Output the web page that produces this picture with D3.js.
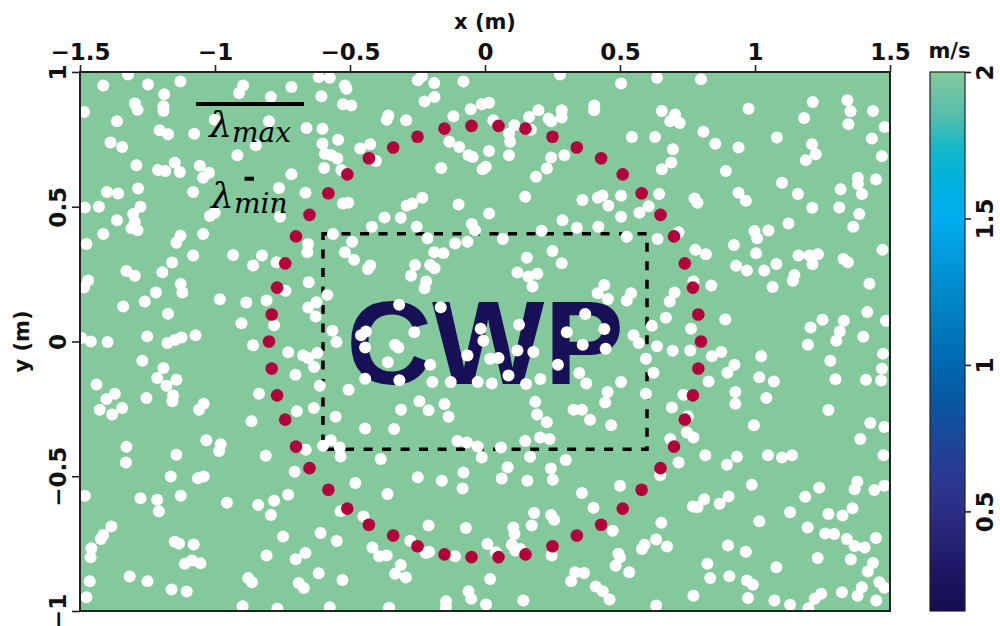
<!DOCTYPE html>
<html>
<head>
<meta charset="utf-8">
<script src="https://cdn.jsdelivr.net/npm/d3@7"></script>
<style>
  body { margin: 0; background: #fff; }
  text { font-family: "DejaVu Sans", sans-serif; font-weight: bold; fill: #111; }
</style>
</head>
<body>
<svg id="chart" width="1000" height="626"></svg>
<script>
// axis ticks
var xTicks = [-1.5, -1, -0.5, 0, 0.5, 1, 1.5];
var yTicks = [-1, -0.5, 0, 0.5, 1];
var cbTicks = [0.5, 1, 1.5, 2];

// colour bar (m/s)
var cbDomain = [0.16, 2];
var cmapValues = [2.0, 1.85, 1.74, 1.61, 1.5, 1.34, 1.17, 1.0, 0.86, 0.73, 0.6, 0.47, 0.34, 0.16];
var cmapColors = ["#84c99b", "#55beae", "#12b8c6", "#00b1e2", "#00aeef", "#0097d8", "#007fc3",
                  "#0068b0", "#0a559f", "#1d4597", "#2c3790", "#2b2a80", "#211b6a", "#140d50"];
var background = 2; // medium velocity, m/s

// CWP target box (m): x0, x1, y0, y1
var cwpBox = [-0.6, 0.6, -0.4, 0.4];

// wavelength bars (m)
var lambdaMax = 0.4;
var lambdaMin = 0.035;
var lambdaMaxAt = [-0.87, 0.881];
var lambdaMinAt = [-0.873, 0.604];

// sources on the ring r = 0.8 m
var sources = [
  [0.80, 0.00], [0.79, 0.10], [0.77, 0.20], [0.74, 0.29], [0.70, 0.39], [0.65, 0.47], [0.58, 0.55],
  [0.51, 0.62], [0.43, 0.68], [0.34, 0.72], [0.25, 0.76], [0.15, 0.79], [0.05, 0.80],
  [-0.05, 0.80], [-0.15, 0.79], [-0.25, 0.76], [-0.34, 0.72], [-0.43, 0.68], [-0.51, 0.62], [-0.58, 0.55],
  [-0.65, 0.47], [-0.70, 0.39], [-0.74, 0.29], [-0.77, 0.20], [-0.79, 0.10], [-0.80, 0.00],
  [-0.79, -0.10], [-0.77, -0.20], [-0.74, -0.29], [-0.70, -0.39], [-0.65, -0.47], [-0.58, -0.55],
  [-0.51, -0.62], [-0.43, -0.68], [-0.34, -0.72], [-0.25, -0.76], [-0.15, -0.79], [-0.05, -0.80],
  [0.05, -0.80], [0.15, -0.79], [0.25, -0.76], [0.34, -0.72], [0.43, -0.68], [0.51, -0.62],
  [0.58, -0.55], [0.65, -0.47], [0.70, -0.39], [0.74, -0.29], [0.77, -0.20], [0.79, -0.10]
];

// point scatterers (m)
var scatterers = [
  [-1.322,0.991],[-1.414,0.950],[-1.248,0.954],[-1.128,0.965],[-1.188,0.917],[-1.297,0.883],[-1.287,0.860],[-1.191,0.873],
  [-1.191,0.855],[-1.485,0.852],[-1.363,0.817],[-1.205,0.784],[-1.174,0.769],[-1.077,0.771],[-1.387,0.738],[-1.344,0.722],
  [-1.291,0.654],[-1.211,0.636],[-1.184,0.633],[-1.149,0.663],[-1.130,0.629],[-1.056,0.652],[-1.022,0.626],[-1.044,0.608],
  [-1.400,0.555],[-1.359,0.549],[-1.285,0.568],[-1.081,0.555],[-1.482,0.497],[-1.430,0.500],[-1.276,0.500],[-1.303,0.473],
  [-1.297,0.444],[-1.309,0.420],[-1.287,0.413],[-1.363,0.450],[-1.414,0.399],[-1.476,0.362],[-1.128,0.392],[-1.143,0.366],
  [-1.044,0.399],[-1.019,0.466],[-1.001,0.478],[-0.917,0.691],[-0.849,0.728],[-0.911,0.922],[-0.896,0.950],[-0.793,0.907],
  [-0.717,0.944],[-0.616,0.981],[-0.575,0.979],[-0.519,0.950],[-0.513,0.938],[-0.606,0.910],[-0.526,0.880],[-0.495,0.876],
  [-1.001,0.823],[-0.800,0.817],[-0.661,0.792],[-0.602,0.789],[-0.544,0.749],[-0.602,0.734],[-0.593,0.697],[-0.569,0.691],
  [-0.547,0.679],[-0.596,0.644],[-0.532,0.636],[-0.717,0.621],[-0.763,0.570],[-0.665,0.552],[-0.526,0.512],[-0.507,0.515],
  [-0.759,0.463],[-0.655,0.362],[-0.563,0.399],[-0.492,0.370],
  [-0.249,0.969],[-0.234,0.984],[-0.188,0.959],[-0.080,0.965],[-0.224,0.891],[-0.187,0.907],[-0.358,0.839],[-0.364,0.823],
  [-0.292,0.821],[-0.117,0.836],[-0.053,0.862],[-0.012,0.880],[0.015,0.886],[0.031,0.821],[0.109,0.802],[0.089,0.771],
  [0.093,0.741],[0.163,0.833],[0.198,0.858],[0.235,0.827],[0.245,0.817],[0.284,0.858],[0.284,0.831],[0.278,0.991],
  [0.405,0.876],[0.404,0.858],[0.504,0.957],[0.544,0.759],[-0.462,0.716],[-0.425,0.732],[-0.404,0.670],[-0.132,0.741],
  [-0.095,0.722],[-0.061,0.691],[-0.046,0.685],[0.015,0.707],[0.089,0.691],[-0.162,0.644],[-0.009,0.639],[0.003,0.648],
  [0.245,0.683],[0.294,0.691],[0.229,0.642],[0.189,0.611],[0.149,0.537],[-0.232,0.533],[-0.290,0.504],[-0.269,0.512],
  [-0.098,0.508],[-0.372,0.460],[-0.312,0.459],[-0.419,0.426],[-0.253,0.426],[-0.213,0.383],[-0.049,0.436],[-0.037,0.413],
  [0.015,0.475],[0.066,0.380],[-0.111,0.364],[-0.065,0.370],[0.287,0.450],[0.210,0.411],[0.340,0.422],[0.420,0.426],
  [0.361,0.525],[0.418,0.533],[0.435,0.542],[0.457,0.504],[0.504,0.541],[0.504,0.463],[0.525,0.389],[0.170,0.786],
  [0.637,0.979],[0.800,0.973],[0.655,0.855],[0.704,0.842],[0.686,0.817],[0.721,0.811],[0.630,0.759],[0.809,0.778],
  [0.853,0.734],[0.939,0.720],[0.976,0.864],[0.696,0.713],[0.690,0.664],[0.655,0.639],[0.892,0.633],[1.081,0.757],
  [1.182,0.829],[1.214,0.889],[1.342,0.895],[1.354,0.854],[1.346,0.806],[1.437,0.855],[1.480,0.796],[1.433,0.753],
  [1.470,0.687],[1.211,0.732],[1.225,0.695],[1.188,0.673],[1.100,0.589],[1.159,0.547],[1.212,0.496],[1.124,0.438],
  [1.317,0.565],[1.312,0.497],[1.381,0.608],[1.381,0.584],[1.396,0.547],[1.448,0.601],[1.386,0.473],[1.364,0.426],
  [0.645,0.547],[0.606,0.502],[0.572,0.478],[0.776,0.531],[0.787,0.515],[0.939,0.552],[0.966,0.522],[0.998,0.410],
  [1.008,0.383],[1.050,0.412],[0.922,0.358],[0.639,0.380],[0.717,0.405],
  [-1.081,0.319],[-0.933,0.321],[-0.826,0.319],[-0.859,0.282],[-0.772,0.294],[-0.658,0.331],[-1.159,0.293],[-1.328,0.262],
  [-1.297,0.244],[-1.195,0.257],[-1.470,0.226],[-1.485,0.200],[-1.127,0.213],[-1.121,0.182],[-1.219,0.182],[-1.260,0.148],
  [-1.340,0.130],[-1.174,0.103],[-0.982,0.157],[-0.884,0.145],[-0.809,0.152],[-0.739,0.188],[-0.653,0.220],[-0.584,0.173],
  [-0.624,0.146],[-0.655,0.126],[-0.627,0.093],[-0.902,0.068],[-0.781,0.060],[-1.495,0.013],[-1.460,0.000],[-1.398,-0.002],
  [-1.251,0.019],[-1.176,-0.006],[-1.149,0.006],[-1.124,0.015],[-1.072,0.023],[-0.859,-0.014],[-0.729,-0.040],[-0.674,-0.052],
  [-0.655,-0.061],[-0.621,-0.043],[-0.633,-0.095],[-0.702,-0.123],[-0.565,0.040],[-0.550,-0.002],[-0.519,0.331],[-0.485,0.303],
  [-1.269,-0.071],[-1.191,-0.098],[-1.214,-0.135],[-1.143,-0.142],[-1.180,-0.164],[-1.439,-0.160],[-1.371,-0.194],[-1.402,-0.213],
  [-1.344,-0.247],[-1.427,-0.253],[-1.381,-0.271],[-1.254,-0.210],[-1.155,-0.200],[-1.158,-0.222],[-1.042,-0.231],[-1.059,-0.253],
  [-0.837,-0.194],[-0.612,-0.164],[-0.505,-0.179],[-0.697,-0.259],[-0.634,-0.247],[-0.553,-0.279],[-0.865,-0.296],
  [-0.188,0.331],[-0.154,0.327],[-0.425,0.282],[-0.434,0.269],[-0.259,0.284],[-0.203,0.284],[-0.187,0.272],[-0.274,0.244],
  [-0.218,0.223],[-0.224,0.198],[0.155,0.311],[0.250,0.336],[0.284,0.290],[0.120,0.256],[0.161,0.241],[0.194,0.251],
  [0.176,0.204],[0.442,0.210],[0.417,0.179],[0.455,0.158],[0.525,0.152],[0.541,0.179],[-0.318,0.136],[-0.164,0.127],
  [0.371,0.102],[-0.459,0.023],[-0.441,0.037],[-0.444,-0.022],[-0.262,0.034],[-0.016,0.047],[-0.006,0.003],[0.126,0.062],
  [0.303,0.034],[0.442,0.046],[0.362,-0.012],[0.447,-0.027],[0.550,0.023],[-0.333,-0.012],[-0.321,-0.022],[-0.360,-0.077],
  [-0.203,-0.086],[-0.065,-0.052],[0.019,-0.064],[0.050,-0.061],[0.120,-0.033],[0.179,-0.039],[0.270,-0.086],[0.087,-0.126],
  [-0.444,-0.138],[-0.317,-0.144],[-0.195,-0.150],[-0.127,-0.150],[-0.027,-0.150],[0.025,-0.156],[0.152,-0.158],[0.205,-0.139],
  [0.349,-0.117],[0.375,-0.156],[0.504,-0.150],[0.454,-0.187],[0.445,-0.226],[0.186,-0.224],[0.193,-0.271],[0.229,-0.300],
  [0.328,-0.253],[0.359,-0.253],[0.389,-0.290],[0.467,-0.311],[-0.243,-0.222],[-0.209,-0.255],[-0.150,-0.232],[-0.135,-0.279],
  [-0.311,-0.253],
  [0.779,0.340],[0.818,0.324],[1.004,0.327],[1.161,0.319],[1.202,0.319],[1.233,0.324],[1.213,0.287],[1.328,0.306],
  [1.344,0.294],[1.472,0.340],[0.930,0.281],[0.970,0.263],[1.034,0.263],[1.079,0.288],[1.146,0.247],[1.140,0.225],
  [1.065,0.202],[1.424,0.214],[0.772,0.223],[0.838,0.208],[0.702,0.182],[0.684,0.148],[0.670,0.088],[0.618,0.058],
  [0.763,0.047],[0.890,0.082],[0.569,-0.006],[0.637,-0.018],[0.695,-0.034],[0.760,-0.033],[0.840,-0.055],[0.875,-0.039],
  [0.924,-0.086],[0.898,-0.116],[0.828,-0.148],[0.624,-0.116],[0.596,-0.064],[0.596,-0.194],[0.735,-0.198],[0.692,-0.245],
  [0.751,-0.277],[0.927,-0.187],[0.927,-0.231],[1.016,-0.133],[1.070,-0.148],[1.023,-0.055],[1.042,-0.210],[1.206,0.052],
  [1.250,0.081],[1.329,0.077],[1.314,0.037],[1.301,0.003],[1.196,-0.012],[1.401,0.018],[1.416,0.109],[1.485,0.077],
  [1.279,-0.071],[1.474,-0.045],[1.470,-0.101],[1.298,-0.140],[1.411,-0.142],[1.467,-0.145],[1.272,-0.254],[1.427,-0.302],
  [1.479,-0.317],[0.996,-0.311],
  [-1.328,-0.391],[-1.330,-0.449],[-1.143,-0.420],[-1.032,-0.366],[-0.979,-0.381],[-0.985,-0.406],[-0.812,-0.424],[-0.664,-0.402],
  [-0.571,-0.366],[-0.600,-0.387],[-0.538,-0.393],[-0.535,-0.427],[-0.705,-0.483],[-1.164,-0.501],[-1.063,-0.507],[-1.042,-0.501],
  [-1.127,-0.572],[-1.276,-0.582],[-1.214,-0.587],[-1.208,-0.630],[-1.482,-0.572],[-0.956,-0.598],[-0.840,-0.607],[-0.781,-0.591],
  [-0.793,-0.644],[-0.729,-0.569],[-0.535,-0.630],[-0.480,-0.525],[-1.384,-0.686],[-1.414,-0.718],[-1.423,-0.733],[-1.458,-0.767],
  [-1.461,-0.801],[-1.149,-0.743],[-1.133,-0.750],[-1.079,-0.753],[-1.112,-0.825],[-1.085,-0.813],[-1.054,-0.823],[-0.748,-0.724],
  [-0.609,-0.711],[-0.549,-0.740],[-0.809,-0.794],[-0.701,-0.808],[-0.665,-0.785],[-0.616,-0.860],[-0.528,-0.885],[-1.316,-0.872],
  [-1.250,-0.890],[-1.464,-0.890],[-1.476,-0.949],[-1.161,-0.920],[-1.105,-0.928],[-0.877,-0.878],[-0.863,-0.893],[-0.690,-0.896],
  [-0.671,-0.915],[-0.898,-0.982],[-0.769,-0.992],[-0.575,-0.986],
  [-0.444,-0.323],[-0.337,-0.325],[-0.102,-0.369],[-0.067,-0.375],[-0.027,-0.390],[0.059,-0.393],[0.149,-0.369],[0.204,-0.356],
  [0.239,-0.362],[-0.386,-0.436],[-0.012,-0.430],[0.167,-0.428],[0.299,-0.440],[0.084,-0.467],[0.062,-0.508],[0.244,-0.471],
  [0.251,-0.513],[-0.080,-0.486],[-0.249,-0.504],[-0.160,-0.517],[-0.083,-0.545],[0.157,-0.517],[-0.361,-0.566],[0.359,-0.562],
  [0.500,-0.535],[0.402,-0.617],[-0.450,-0.649],[0.182,-0.636],[0.245,-0.644],[0.256,-0.661],[-0.209,-0.683],[-0.071,-0.692],
  [0.105,-0.690],[0.109,-0.714],[0.173,-0.683],[0.473,-0.702],[-0.277,-0.739],[-0.417,-0.764],[-0.392,-0.797],[-0.364,-0.794],
  [-0.312,-0.829],[-0.333,-0.862],[-0.293,-0.876],[-0.219,-0.785],[-0.207,-0.780],[-0.111,-0.797],[0.009,-0.751],[0.040,-0.782],
  [0.099,-0.754],[0.112,-0.776],[0.130,-0.770],[0.247,-0.794],[0.494,-0.788],[0.500,-0.801],[0.484,-0.832],[0.534,-0.856],
  [0.334,-0.856],[0.367,-0.859],[0.319,-0.890],[0.410,-0.909],[0.436,-0.927],[0.461,-0.957],[0.019,-0.881],[-0.061,-0.927],
  [-0.051,-0.955],[0.004,-0.976],[-0.144,-0.964],[-0.145,-0.986],[0.142,-0.961],[-0.355,-0.988],
  [0.686,-0.362],[0.772,-0.356],[0.748,-0.338],[1.390,-0.362],[0.816,-0.422],[0.933,-0.428],[0.896,-0.457],[1.048,-0.422],
  [1.100,-0.430],[1.137,-0.422],[0.717,-0.449],[0.649,-0.496],[1.476,-0.422],[1.379,-0.520],[1.369,-0.548],[1.442,-0.551],
  [1.479,-0.535],[0.988,-0.532],[1.238,-0.543],[1.186,-0.576],[0.812,-0.585],[0.770,-0.612],[0.787,-0.615],[0.869,-0.602],
  [0.902,-0.575],[1.130,-0.634],[1.272,-0.640],[1.324,-0.646],[1.361,-0.619],[1.016,-0.667],[0.653,-0.673],[1.195,-0.690],
  [1.260,-0.712],[1.293,-0.714],[1.340,-0.733],[1.369,-0.759],[1.406,-0.764],[1.448,-0.729],[0.634,-0.735],[0.591,-0.754],
  [0.581,-0.770],[0.674,-0.761],[0.900,-0.757],[0.966,-0.780],[0.824,-0.825],[1.079,-0.838],[1.232,-0.803],[1.355,-0.809],
  [1.437,-0.822],[1.418,-0.853],[0.834,-0.878],[0.905,-0.871],[0.970,-0.887],[0.992,-0.903],[1.461,-0.893],[1.479,-0.914],
  [1.396,-0.912],[1.380,-0.943],[1.322,-0.930],[1.245,-0.936],[1.221,-0.955],[1.198,-0.990],[1.130,-0.977],[1.072,-0.961],
  [0.974,-0.952],[0.772,-0.943],[0.634,-0.980],[1.449,-0.961]
];

var svg = d3.select("#chart");

var x = d3.scaleLinear().domain([-1.5, 1.5]).range([80, 890]);
var y = d3.scaleLinear().domain([-1, 1]).range([611, 72]);
var cb = d3.scaleLinear().domain(cbDomain).range([611, 72]);
var color = d3.scaleLinear().domain(cmapValues).range(cmapColors);

var defs = svg.append("defs");
defs.append("clipPath").attr("id", "plotClip")
  .append("rect")
  .attr("x", x(-1.5)).attr("y", y(1))
  .attr("width", x(1.5) - x(-1.5)).attr("height", y(-1) - y(1));

// gradient stops must go in increasing offset order (bottom -> top)
var grad = defs.append("linearGradient").attr("id", "cbGrad")
  .attr("x1", 0).attr("y1", 1).attr("x2", 0).attr("y2", 0);
grad.selectAll("stop")
  .data(cmapValues.slice().reverse())
  .enter().append("stop")
  .attr("offset", function (v) { return (v - cbDomain[0]) / (cbDomain[1] - cbDomain[0]); })
  .attr("stop-color", function (v) { return color(v); });

var plot = svg.append("g").attr("clip-path", "url(#plotClip)");

// velocity model background
plot.append("rect")
  .attr("x", x(-1.5)).attr("y", y(1))
  .attr("width", x(1.5) - x(-1.5)).attr("height", y(-1) - y(1))
  .style("fill", color(background));

// CWP lettering (low velocity)
plot.append("text")
  .attr("x", x(0))
  .attr("y", y(0))
  .attr("dy", "0.36em")
  .attr("text-anchor", "middle")
  .style("font-family", "'Liberation Sans', Arial, sans-serif")
  .style("font-size", "119px")
  .style("font-weight", "bold")
  .style("fill", color(0.2))
  .text("CWP");

// dashed target box
plot.append("rect")
  .attr("x", x(cwpBox[0]))
  .attr("y", y(cwpBox[3]))
  .attr("width", x(cwpBox[1]) - x(cwpBox[0]))
  .attr("height", y(cwpBox[2]) - y(cwpBox[3]))
  .style("fill", "none")
  .style("stroke", "#000")
  .style("stroke-width", 3.5)
  .style("stroke-dasharray", "9,9.5");

plot.selectAll(".scat")
  .data(scatterers)
  .enter().append("circle")
  .attr("class", "scat")
  .attr("cx", function (d) { return x(d[0]); })
  .attr("cy", function (d) { return y(d[1]); })
  .attr("r", 6)
  .style("fill", "#fff");

plot.selectAll(".src")
  .data(sources)
  .enter().append("circle")
  .attr("class", "src")
  .attr("cx", function (d) { return x(d[0]); })
  .attr("cy", function (d) { return y(d[1]); })
  .attr("r", 6.3)
  .style("fill", "#b3003b");

// wavelength legend
function lambdaBar(at, len, sub, gap) {
  plot.append("line")
    .attr("x1", x(at[0] - len / 2)).attr("x2", x(at[0] + len / 2))
    .attr("y1", y(at[1])).attr("y2", y(at[1]))
    .style("stroke", "#000").style("stroke-width", 4);
  var t = plot.append("text")
    .attr("x", x(at[0]))
    .attr("y", y(at[1]) + gap)
    .attr("text-anchor", "middle")
    .style("font-family", "'DejaVu Serif', serif")
    .style("font-style", "italic")
    .style("font-weight", "normal")
    .style("fill", "#000");
  t.append("tspan").style("font-size", "36px").text("λ");
  t.append("tspan").style("font-size", "28px").attr("dy", 5).text(sub);
}
lambdaBar(lambdaMaxAt, lambdaMax, "max", 33);
lambdaBar(lambdaMinAt, lambdaMin, "min", 29);

// frame
svg.append("rect")
  .attr("x", x(-1.5)).attr("y", y(1))
  .attr("width", x(1.5) - x(-1.5)).attr("height", y(-1) - y(1))
  .style("fill", "none").style("stroke", "#222").style("stroke-width", 2);

// axes
var fmt = d3.format("");
var xAxis = svg.append("g")
  .attr("transform", "translate(0," + y(1) + ")")
  .call(d3.axisTop(x).tickValues(xTicks).tickSize(7).tickPadding(5).tickFormat(fmt));

var yAxis = svg.append("g")
  .attr("transform", "translate(" + x(-1.5) + ",0)")
  .call(d3.axisLeft(y).tickValues(yTicks).tickSize(8).tickFormat(fmt));
yAxis.selectAll(".tick text")
  .attr("transform", "rotate(-90)")
  .attr("x", 0).attr("y", -14).attr("dy", 0)
  .attr("text-anchor", "middle");

[xAxis, yAxis].forEach(function (g) {
  g.select(".domain").remove();
  g.selectAll(".tick line").style("stroke", "#222").style("stroke-width", 1.6);
  g.selectAll(".tick text").style("font-size", "23px").style("font-family", "'DejaVu Sans', sans-serif")
    .style("font-weight", "bold").style("fill", "#111");
});

svg.append("text")
  .attr("x", x(0)).attr("y", 29)
  .attr("text-anchor", "middle")
  .style("font-size", "21px")
  .text("x (m)");

svg.append("text")
  .attr("transform", "translate(29," + y(0) + ") rotate(-90)")
  .attr("text-anchor", "middle")
  .style("font-size", "21px")
  .text("y (m)");

// colour bar
var cbX = 930, cbW = 35;
svg.append("rect")
  .attr("x", cbX).attr("y", cb(cbDomain[1]))
  .attr("width", cbW).attr("height", cb(cbDomain[0]) - cb(cbDomain[1]))
  .style("fill", "url(#cbGrad)")
  .style("stroke", "#222").style("stroke-width", 1.2);

var cbAxis = svg.append("g")
  .attr("transform", "translate(" + (cbX + cbW) + ",0)")
  .call(d3.axisRight(cb).tickValues(cbTicks).tickSize(6).tickFormat(fmt));
cbAxis.select(".domain").remove();
cbAxis.selectAll(".tick line").style("stroke", "#222").style("stroke-width", 1.6);
cbAxis.selectAll(".tick text")
  .attr("transform", "rotate(-90)")
  .attr("x", 0).attr("y", 28).attr("dy", 0)
  .attr("text-anchor", "middle")
  .style("font-size", "23px").style("font-family", "'DejaVu Sans', sans-serif")
  .style("font-weight", "bold").style("fill", "#111");

svg.append("text")
  .attr("x", cbX + cbW / 2 + 2).attr("y", 58)
  .attr("text-anchor", "middle")
  .style("font-size", "21px")
  .text("m/s");
</script>
</body>
</html>
